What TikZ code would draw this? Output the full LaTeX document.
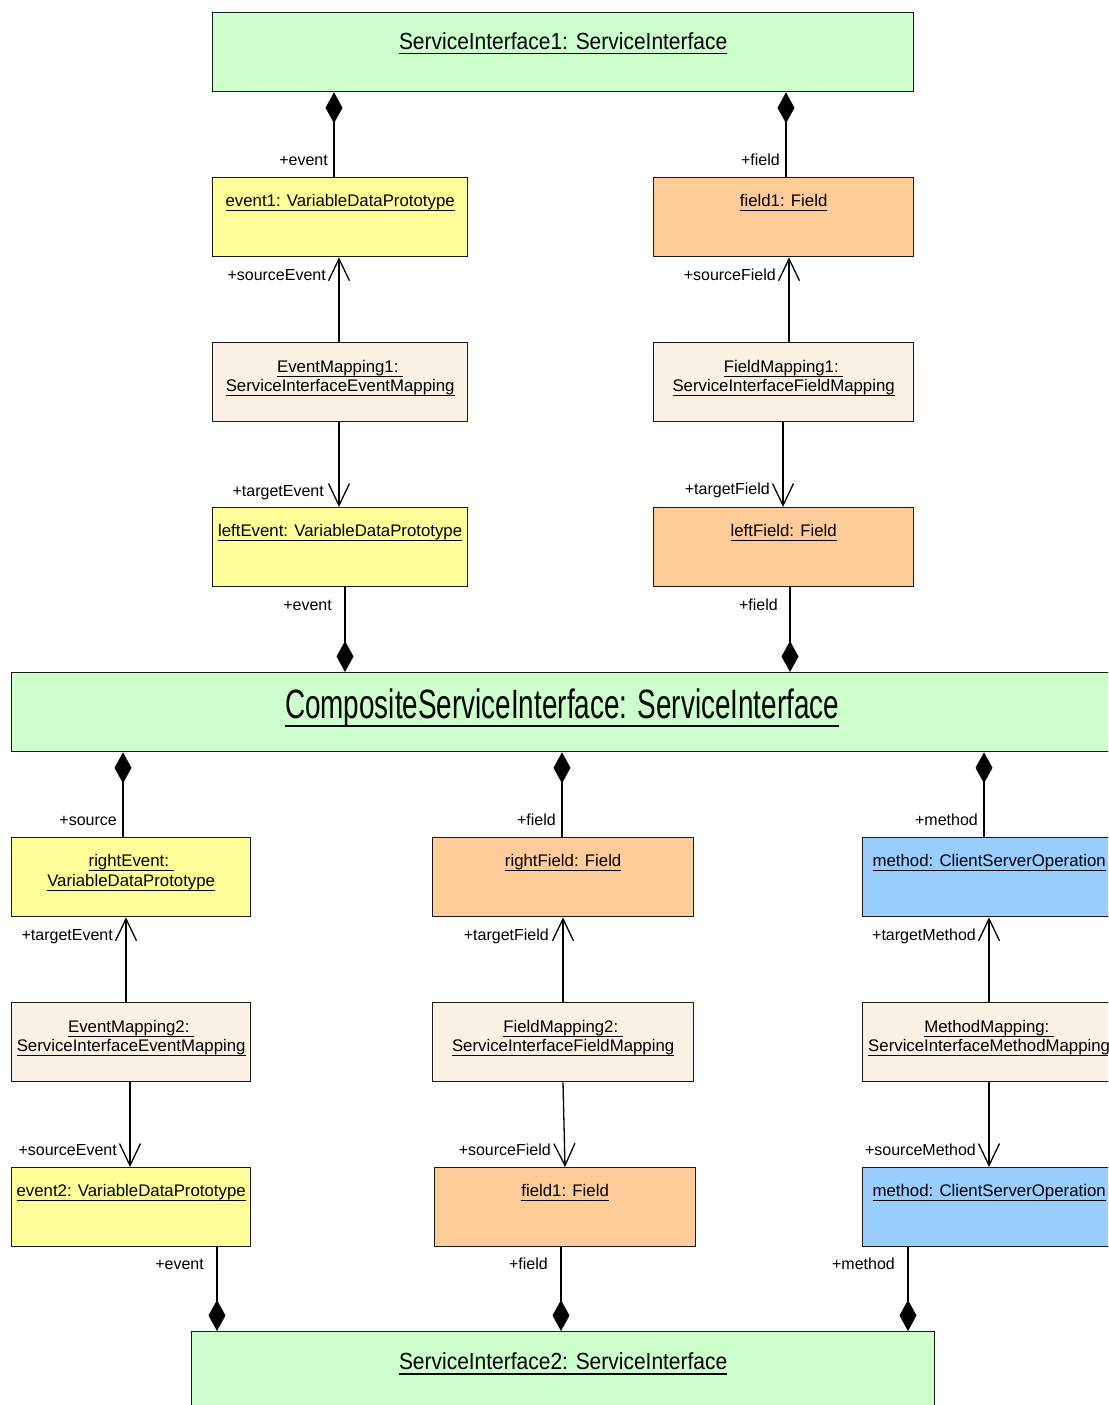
\documentclass[tikz,border=0pt]{standalone}
\usepackage{fontspec}
\setmainfont{Liberation Sans}
\newfontfamily\titlefont{Liberation Sans}[FakeStretch=0.9]
\newfontfamily\compfont{Liberation Sans}[FakeStretch=0.68]
\usetikzlibrary{arrows.meta}
\definecolor{sigreen}{HTML}{CCFFCC}
\definecolor{vdpyellow}{HTML}{FFFF99}
\definecolor{fieldorange}{HTML}{FFCC99}
\definecolor{mapbeige}{HTML}{FAF0E3}
\definecolor{opblue}{HTML}{99CCFF}
\definecolor{edge}{HTML}{1A1A1A}
\newcommand{\ulx}[3]{\setbox0\hbox{#3}\rlap{\rule[-#1]{\wd0}{#2}}\box0}
\newcommand{\sul}[1]{\ulx{4.8pt}{1.3pt}{#1}}
\begin{document}
\begin{tikzpicture}[x=1pt,y=-1pt,
  box/.style={draw=edge, line width=1.3pt, anchor=north west, inner sep=0, minimum height=79pt},
  txt/.style={anchor=base, inner sep=0, font=\fontsize{16.8}{20}\selectfont},
  lbl/.style={anchor=base east, inner sep=0, font=\fontsize{16}{19}\selectfont},
  compos/.style={line width=1.3pt, draw=black, -{Diamond[length=31pt,width=17pt]}},
  navi/.style={line width=1.3pt, draw=black, -{Straight Barb[length=22pt,width=21pt]}}]
\useasboundingbox (0,0) rectangle (1108,1405);
\clip (0,0) rectangle (1108,1405);
\fill[white] (0,0) rectangle (1108,1405);

% boxes
\node[box, fill=sigreen, minimum width=701pt] (si1) at (212,12) {};
\node[box, fill=vdpyellow, minimum width=255pt] (ev1) at (212,177) {};
\node[box, fill=fieldorange, minimum width=260pt] (fd1) at (653,177) {};
\node[box, fill=mapbeige, minimum width=255pt] (em1) at (212,342) {};
\node[box, fill=mapbeige, minimum width=260pt] (fm1) at (653,342) {};
\node[box, fill=vdpyellow, minimum width=255pt] (lev) at (212,507) {};
\node[box, fill=fieldorange, minimum width=260pt] (lfd) at (653,507) {};
\node[box, fill=sigreen, minimum width=1101pt] (comp) at (11,672) {};
\node[box, fill=vdpyellow, minimum width=239pt] (rev) at (11,837) {};
\node[box, fill=fieldorange, minimum width=261pt] (rfd) at (432,837) {};
\node[box, fill=opblue, minimum width=253pt] (mt1) at (862,837) {};
\node[box, fill=mapbeige, minimum width=239pt] (em2) at (11,1002) {};
\node[box, fill=mapbeige, minimum width=261pt] (fm2) at (432,1002) {};
\node[box, fill=mapbeige, minimum width=253pt] (mm) at (862,1002) {};
\node[box, fill=vdpyellow, minimum width=239pt] (ev2) at (11,1167) {};
\node[box, fill=fieldorange, minimum width=261pt] (fb) at (434,1167) {};
\node[box, fill=opblue, minimum width=253pt] (mt2) at (862,1167) {};
\node[box, fill=sigreen, minimum width=743pt, minimum height=100pt] (si2) at (191,1331) {};

% titles
\node[anchor=base, inner sep=0] (si1t) at ([yshift=-37pt]si1.north)
  {\titlefont\fontsize{23.3}{28}\selectfont\ulx{5.5pt}{1.5pt}{ServiceInterface1: ServiceInterface}};
\node[anchor=base, inner sep=0] (compt) at ([yshift=-46pt]comp.north)
  {\compfont\fontsize{41}{48}\selectfont\ulx{8.5pt}{2pt}{CompositeServiceInterface: ServiceInterface}};
\node[anchor=base, inner sep=0] (si2t) at ([yshift=-38pt]si2.north)
  {\titlefont\fontsize{23.3}{28}\selectfont\ulx{5.5pt}{1.5pt}{ServiceInterface2: ServiceInterface}};

% single-line texts
\node[txt] (ev1t) at ([yshift=-29pt]ev1.north) {\sul{event1: VariableDataPrototype}};
\node[txt] (fd1t) at ([yshift=-29pt]fd1.north) {\sul{field1: Field}};
\node[txt] (levt) at ([yshift=-29pt]lev.north) {\sul{leftEvent: VariableDataPrototype}};
\node[txt] (lfdt) at ([yshift=-29pt]lfd.north) {\sul{leftField: Field}};
\node[txt] (rfdt) at ([yshift=-29pt]rfd.north) {\sul{rightField: Field}};
\node[txt] (mt1t) at ([yshift=-29pt]mt1.north) {\sul{method: ClientServerOperation}};
\node[txt] (ev2t) at ([yshift=-29pt]ev2.north) {\sul{event2: VariableDataPrototype}};
\node[txt] (fbt) at ([yshift=-29pt]fb.north) {\sul{field1: Field}};
\node[txt] (mt2t) at ([yshift=-29pt]mt2.north) {\sul{method: ClientServerOperation}};

% two-line texts
\node[txt] (em1a) at ([yshift=-30pt]em1.north) {\sul{EventMapping1:\ }};
\node[txt] (em1b) at ([yshift=-49pt]em1.north) {\sul{ServiceInterfaceEventMapping}};
\node[txt] (fm1a) at ([yshift=-30pt]fm1.north) {\sul{FieldMapping1:\ }};
\node[txt] (fm1b) at ([yshift=-49pt]fm1.north) {\sul{ServiceInterfaceFieldMapping}};
\node[txt] (reva) at ([yshift=-29pt]rev.north) {\sul{rightEvent:\ }};
\node[txt] (revb) at ([yshift=-49pt]rev.north) {\sul{VariableDataPrototype}};
\node[txt] (em2a) at ([yshift=-30pt]em2.north) {\sul{EventMapping2:\ }};
\node[txt] (em2b) at ([yshift=-49pt]em2.north) {\sul{ServiceInterfaceEventMapping}};
\node[txt] (fm2a) at ([yshift=-30pt]fm2.north) {\sul{FieldMapping2:\ }};
\node[txt] (fm2b) at ([yshift=-49pt]fm2.north) {\sul{ServiceInterfaceFieldMapping}};
\node[txt] (mma) at ([yshift=-30pt]mm.north) {\sul{MethodMapping:\ }};
\node[txt] (mmb) at ([yshift=-49pt]mm.north) {\sul{ServiceInterfaceMethodMapping}};

% connector x positions
\coordinate (c1) at (334,0);
\coordinate (c2) at (786,0);
\coordinate (c3) at (339,0);
\coordinate (c4) at (789,0);
\coordinate (c5) at (783,0);
\coordinate (c6) at (345,0);
\coordinate (c7) at (790,0);
\coordinate (c8) at (123,0);
\coordinate (c9) at (562,0);
\coordinate (c10) at (984,0);
\coordinate (c11) at (126,0);
\coordinate (c12) at (563,0);
\coordinate (c13) at (989,0);
\coordinate (c14) at (130,0);
\coordinate (c15) at (217,0);
\coordinate (c16) at (561,0);
\coordinate (c17) at (908,0);
\coordinate (c18) at (565,0);

% upper part
\draw[compos] (ev1.north -| c1) -- (si1.south -| c1);
\node[lbl, xshift=-6pt, yshift=12pt] (l1) at (ev1.north -| c1) {+event};
\draw[compos] (fd1.north -| c2) -- (si1.south -| c2);
\node[lbl, xshift=-6pt, yshift=12pt] (l2) at (fd1.north -| c2) {+field};
\draw[navi] (em1.north -| c3) -- (ev1.south -| c3);
\node[lbl, xshift=-13pt, yshift=-23pt] (l3) at (ev1.south -| c3) {+sourceEvent};
\draw[navi] (fm1.north -| c4) -- (fd1.south -| c4);
\node[lbl, xshift=-13pt, yshift=-23pt] (l4) at (fd1.south -| c4) {+sourceField};
\draw[navi] (em1.south -| c3) -- (lev.north -| c3);
\node[lbl, xshift=-15pt, yshift=11pt] (l5) at (lev.north -| c3) {+targetEvent};
\draw[navi] (fm1.south -| c5) -- (lfd.north -| c5);
\node[lbl, xshift=-13pt, yshift=13pt] (l6) at (lfd.north -| c5) {+targetField};
\draw[compos] (lev.south -| c6) -- (comp.north -| c6);
\node[lbl, xshift=-13pt, yshift=-23pt] (l7) at (lev.south -| c6) {+event};
\draw[compos] (lfd.south -| c7) -- (comp.north -| c7);
\node[lbl, xshift=-12pt, yshift=-23pt] (l8) at (lfd.south -| c7) {+field};

% lower part
\draw[compos] (rev.north -| c8) -- (comp.south -| c8);
\node[lbl, xshift=-6pt, yshift=12pt] (l9) at (rev.north -| c8) {+source};
\draw[compos] (rfd.north -| c9) -- (comp.south -| c9);
\node[lbl, xshift=-6pt, yshift=12pt] (l10) at (rfd.north -| c9) {+field};
\draw[compos] (mt1.north -| c10) -- (comp.south -| c10);
\node[lbl, xshift=-6pt, yshift=12pt] (l11) at (mt1.north -| c10) {+method};
\draw[navi] (em2.north -| c11) -- (rev.south -| c11);
\node[lbl, xshift=-13pt, yshift=-23pt] (l12) at (rev.south -| c11) {+targetEvent};
\draw[navi] (fm2.north -| c12) -- (rfd.south -| c12);
\node[lbl, xshift=-14pt, yshift=-23pt] (l13) at (rfd.south -| c12) {+targetField};
\draw[navi] (mm.north -| c13) -- (mt1.south -| c13);
\node[lbl, xshift=-13pt, yshift=-23pt] (l14) at (mt1.south -| c13) {+targetMethod};
\draw[navi] (em2.south -| c14) -- (ev2.north -| c14);
\node[lbl, xshift=-13pt, yshift=12pt] (l15) at (ev2.north -| c14) {+sourceEvent};
\draw[navi] (fm2.south -| c12) -- (fb.north -| c18);
\node[lbl, xshift=-14pt, yshift=12pt] (l16) at (fb.north -| c18) {+sourceField};
\draw[navi] (mm.south -| c13) -- (mt2.north -| c13);
\node[lbl, xshift=-13pt, yshift=12pt] (l17) at (mt2.north -| c13) {+sourceMethod};
\draw[compos] (ev2.south -| c15) -- (si2.north -| c15);
\node[lbl, xshift=-13pt, yshift=-22pt] (l18) at (ev2.south -| c15) {+event};
\draw[compos] (fb.south -| c16) -- (si2.north -| c16);
\node[lbl, xshift=-13pt, yshift=-22pt] (l19) at (fb.south -| c16) {+field};
\draw[compos] (mt2.south -| c17) -- (si2.north -| c17);
\node[lbl, xshift=-13pt, yshift=-22pt] (l20) at (mt2.south -| c17) {+method};
\end{tikzpicture}
\end{document}
